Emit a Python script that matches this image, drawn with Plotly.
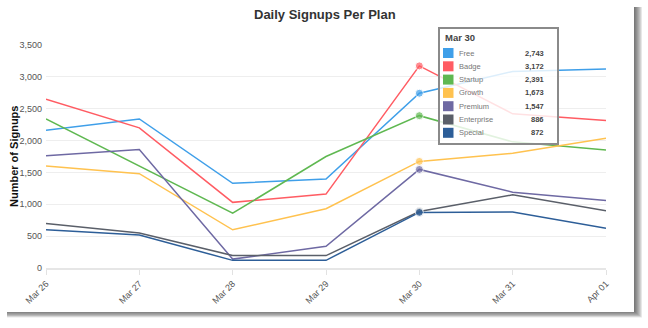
import plotly.graph_objects as go

# Daily signup counts by plan
dates = ["Mar 26", "Mar 27", "Mar 28", "Mar 29", "Mar 30", "Mar 31", "Apr 01"]
plans = ["Free", "Badge", "Startup", "Growth", "Premium", "Enterprise", "Special"]

free = [2160, 2340, 1330, 1395, 2743, 3085, 3125]
badge = [2650, 2200, 1030, 1160, 3172, 2420, 2315]
startup = [2340, 1605, 860, 1750, 2391, 1980, 1852]
growth = [1600, 1480, 600, 930, 1673, 1800, 2035]
premium = [1760, 1860, 140, 340, 1547, 1190, 1058]
enterprise = [700, 548, 195, 195, 886, 1148, 900]
special = [600, 518, 120, 120, 872, 880, 622]

series = [free, badge, startup, growth, premium, enterprise, special]
colors = ["#3f9fe9", "#ff5c63", "#5fb851", "#ffc24f", "#6e69a3", "#5a5f69", "#2d5e98"]
focus_day = "Mar 30"

W, H = 648, 328
L, R, T, B = 46, 606, 45, 268  # plot area in pixels


def px(x):
    return (x - L) / (R - L)


def py(y):
    return (B - y) / (B - T)


fig = go.Figure()
fi = dates.index(focus_day)
for name, vals, col in zip(plans, series, colors):
    sizes = [8 if i == fi else 0 for i in range(len(dates))]
    fig.add_trace(go.Scatter(
        x=dates, y=vals, name=name, mode="lines+markers",
        line=dict(color=col, width=1.5),
        marker=dict(color=col, size=sizes),
        hoverinfo="skip", showlegend=False,
    ))

shapes = []
# card shadow
for k in range(8):
    shapes.append(dict(
        type="rect", xref="paper", yref="paper", layer="below",
        x0=px(7), x1=px(634 + 1 + k), y0=py(7), y1=py(312 + k * 0.8),
        line=dict(width=0), fillcolor="rgba(40,40,40,0.11)",
    ))
# card
shapes.append(dict(
    type="rect", xref="paper", yref="paper", layer="below",
    x0=px(0), x1=px(634), y0=py(0), y1=py(312),
    line=dict(width=0), fillcolor="white",
))

# tooltip box
tx0, tx1, ty0, ty1 = 439, 558, 28, 144
shapes.append(dict(
    type="rect", xref="paper", yref="paper", layer="above",
    x0=px(tx0), x1=px(tx1), y0=py(ty0), y1=py(ty1),
    line=dict(color="#8a8a8a", width=2), fillcolor="rgba(255,255,255,0.82)",
))

annotations = [
    dict(text="<b>Daily Signups Per Plan</b>", x=px(325), y=py(14), xref="paper", yref="paper",
         showarrow=False, font=dict(size=13, color="#333333"), xanchor="center", yanchor="middle"),
    dict(text="<b>Number of Signups</b>", x=px(14), y=py(157), xref="paper", yref="paper",
         showarrow=False, textangle=-90, font=dict(size=11, color="#111111"),
         xanchor="center", yanchor="middle"),
    dict(text="<b>" + focus_day + "</b>", x=px(443), y=py(37.5), xref="paper", yref="paper",
         showarrow=False, font=dict(size=9.5, color="#444444"), xanchor="left", yanchor="middle"),
]

row0, step = 53, 13.3
for i, (name, vals, col) in enumerate(zip(plans, series, colors)):
    yc = row0 + i * step
    shapes.append(dict(
        type="rect", xref="paper", yref="paper", layer="above",
        x0=px(443), x1=px(453.5), y0=py(yc - 5), y1=py(yc + 5),
        line=dict(width=0), fillcolor=col,
    ))
    annotations.append(dict(
        text=name, x=px(457), y=py(yc), xref="paper", yref="paper", showarrow=False,
        font=dict(size=7.5, color="#777777"), xanchor="left", yanchor="middle",
    ))
    annotations.append(dict(
        text="<b>{:,}</b>".format(vals[fi]), x=px(545.5), y=py(yc), xref="paper", yref="paper",
        showarrow=False, font=dict(size=7.5, color="#444444"), xanchor="right", yanchor="middle",
    ))

fig.update_layout(
    width=W, height=H,
    margin=dict(l=L, r=W - R, t=T, b=H - B, pad=0),
    paper_bgcolor="white", plot_bgcolor="rgba(0,0,0,0)",
    font=dict(family="Liberation Sans, Arial, Helvetica, sans-serif", size=9, color="#555555"),
    shapes=shapes, annotations=annotations,
    xaxis=dict(
        type="category", categoryorder="array", categoryarray=dates,
        range=[0, len(dates) - 1], tickangle=-45, showgrid=False,
        ticks="outside", ticklen=5, tickcolor="#e2e2e2", tickwidth=1,
        showline=True, linecolor="#e6e6e6", linewidth=2,
        tickfont=dict(size=9, color="#555555"), zeroline=False,
    ),
    yaxis=dict(
        range=[0, 3500], dtick=500, tickformat=",d",
        showgrid=True, gridcolor="#eeeeee", gridwidth=1,
        zeroline=False, showline=False, ticks="",
        tickfont=dict(size=9, color="#555555"), ticklabelstandoff=3,
    ),
)

fig.write_html("out.html")
